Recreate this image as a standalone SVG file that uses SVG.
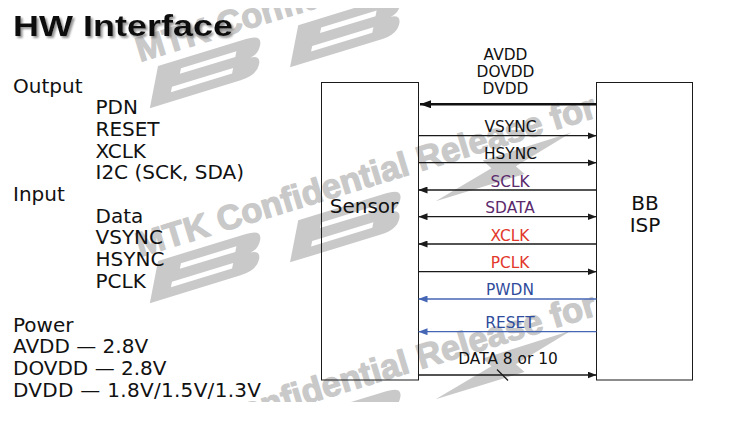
<svg xmlns="http://www.w3.org/2000/svg" xmlns:xlink="http://www.w3.org/1999/xlink" width="738" height="421" viewBox="0 0 738 421">
  <defs>
    <style>
      .t{font-family:"DejaVu Sans",Verdana,sans-serif;fill:#111}
      .side{font-size:20px}
      .lab{font-size:15.4px;text-anchor:middle}
      .node{font-size:20px;text-anchor:middle}
      .wm{fill:#c9c9c9}
      .wmtext{font-family:"Liberation Sans",Arial,sans-serif;font-weight:bold;font-size:34.5px;fill:#c9c9c9;stroke:#c9c9c9;stroke-width:1.2;stroke-linejoin:round}
      .box{fill:none;stroke:#1a1a1a;stroke-width:1}
      .sig{fill:none;stroke:#1a1a1a;stroke-width:1.3}
      .pwr{fill:none;stroke:#111;stroke-width:2.6}
      .ctl{fill:none;stroke:#4566b4;stroke-width:1.3}
      .purple{fill:#5b2a6c}
      .red{fill:#e2372b}
      .blue{fill:#2f4c9c}
    </style>
    <marker id="ah" markerUnits="userSpaceOnUse" markerWidth="9" markerHeight="7" refX="9" refY="3.5" orient="auto-start-reverse">
      <path d="M0,0 L9,3.5 L0,7 z" fill="#1a1a1a"/>
    </marker>
    <marker id="ahBig" markerUnits="userSpaceOnUse" markerWidth="11" markerHeight="8" refX="11" refY="4" orient="auto-start-reverse">
      <path d="M0,0 L11,4 L0,8 z" fill="#111"/>
    </marker>
    <marker id="ahBlue" markerUnits="userSpaceOnUse" markerWidth="9" markerHeight="7" refX="9" refY="3.5" orient="auto-start-reverse">
      <path d="M0,0 L9,3.5 L0,7 z" fill="#4566b4"/>
    </marker>
    <filter id="shadow" x="-5%" y="-20%" width="115%" height="150%">
      <feDropShadow dx="2" dy="2" stdDeviation="1.2" flood-color="#777" flood-opacity="0.8"/>
    </filter>
    <clipPath id="page">
      <rect x="0" y="8" width="738" height="394"/>
    </clipPath>
    <!-- one repeat of the background stamp: slogan plus the logo marks, laid on a slant -->
    <g id="stampTile" transform="rotate(-17)">
      <text class="wmtext" x="0" y="0">MTK Confidential Release for</text>
      <g transform="translate(60,28) skewX(-28)">
        <path class="wm" d="M-54,-19 L38,-19 Q55,-19 55,-9 Q55,-1 47,0 Q58,1 58,9 Q58,19 41,19 L-54,19 Z"/>
        <rect x="-28" y="-10" width="58" height="5" fill="#fff"/>
        <rect x="-34" y="5" width="64" height="5" fill="#fff"/>
      </g>
      <g transform="translate(206,30) skewX(-28)">
        <path class="wm" d="M-54,-19 L38,-19 Q55,-19 55,-9 Q55,-1 47,0 Q58,1 58,9 Q58,19 41,19 L-54,19 Z"/>
        <rect x="-28" y="-10" width="58" height="5" fill="#fff"/>
        <rect x="-34" y="5" width="64" height="5" fill="#fff"/>
      </g>
      <g transform="translate(374,20)">
        <path class="wm" d="M-75,13 L-12,-2 L-18,-12 L75,-13 L12,3 L18,13 Z"/>
      </g>
    </g>
  </defs>

  <rect x="0" y="0" width="738" height="421" fill="#fff"/>

  <!-- background stamp -->
  <g id="stamp" clip-path="url(#page)">
    <use xlink:href="#stampTile" transform="translate(140,62)"/>
    <use xlink:href="#stampTile" transform="translate(140,257)"/>
    <use xlink:href="#stampTile" transform="translate(140,455)"/>
  </g>

  <!-- heading -->
  <text id="title" x="13" y="36" font-family="'Liberation Sans',Arial,sans-serif" font-weight="bold" font-size="30" fill="#111" textLength="220" lengthAdjust="spacingAndGlyphs" filter="url(#shadow)">HW Interface</text>

  <!-- pin summary -->
  <g id="pinList" class="t side">
    <text x="13" y="92.7">Output</text>
    <text x="95.5" y="114.3">PDN</text>
    <text x="95.5" y="136">RESET</text>
    <text x="95.5" y="157.7">XCLK</text>
    <text x="95.5" y="179.3">I2C (SCK, SDA)</text>
    <text x="13" y="201">Input</text>
    <text x="95.5" y="222.7">Data</text>
    <text x="95.5" y="244.3">VSYNC</text>
    <text x="95.5" y="266">HSYNC</text>
    <text x="95.5" y="287.7">PCLK</text>
    <text x="13" y="331.5">Power</text>
    <text x="13" y="353.2">AVDD — 2.8V</text>
    <text x="13" y="374.9">DOVDD — 2.8V</text>
    <text x="13" y="396.8" textLength="248" lengthAdjust="spacing">DVDD — 1.8V/1.5V/1.3V</text>
  </g>

  <!-- blocks -->
  <g id="sensor">
    <rect class="box" x="321.5" y="82.5" width="97" height="297.5"/>
    <text class="t node" x="364" y="213">Sensor</text>
  </g>
  <g id="bbisp">
    <rect class="box" x="596.5" y="82.5" width="96" height="297.5"/>
    <text class="t node" x="645" y="210">BB</text>
    <text class="t node" x="645" y="232">ISP</text>
  </g>

  <!-- signal lines -->
  <g id="connectors">
    <line class="pwr" x1="596.5" y1="104.3" x2="420" y2="104.3" marker-end="url(#ahBig)"/>
    <line class="sig" x1="418.5" y1="135.7" x2="596.5" y2="135.7" marker-end="url(#ah)"/>
    <line class="sig" x1="418.5" y1="162.7" x2="596.5" y2="162.7" marker-end="url(#ah)"/>
    <line class="sig" x1="596.5" y1="190" x2="418.5" y2="190" marker-end="url(#ah)"/>
    <line class="sig" x1="418.5" y1="216.7" x2="596.5" y2="216.7" marker-start="url(#ah)" marker-end="url(#ah)"/>
    <line class="sig" x1="596.5" y1="244" x2="418.5" y2="244" marker-end="url(#ah)"/>
    <line class="sig" x1="418.5" y1="271.7" x2="596.5" y2="271.7" marker-end="url(#ah)"/>
    <line class="ctl" x1="596.5" y1="299" x2="418.5" y2="299" marker-end="url(#ahBlue)"/>
    <line class="ctl" x1="596.5" y1="331.7" x2="418.5" y2="331.7" marker-end="url(#ahBlue)"/>
    <line class="sig" x1="418.5" y1="375" x2="596.5" y2="375" marker-end="url(#ah)"/>
    <line class="sig" x1="497" y1="369.5" x2="508" y2="380.5"/>
  </g>

  <!-- signal names -->
  <g id="labels" class="t lab">
    <text x="505.5" y="60">AVDD</text>
    <text x="505.5" y="77.3">DOVDD</text>
    <text x="505.5" y="94.3">DVDD</text>
    <text x="510.5" y="131.7">VSYNC</text>
    <text x="510.5" y="159">HSYNC</text>
    <text class="purple" x="510" y="186.7">SCLK</text>
    <text class="purple" x="510" y="213.3">SDATA</text>
    <text class="red" x="510" y="241.3">XCLK</text>
    <text class="red" x="510" y="268">PCLK</text>
    <text class="blue" x="510" y="295">PWDN</text>
    <text class="blue" x="510" y="328">RESET</text>
    <text x="508" y="364">DATA 8 or 10</text>
  </g>
</svg>
